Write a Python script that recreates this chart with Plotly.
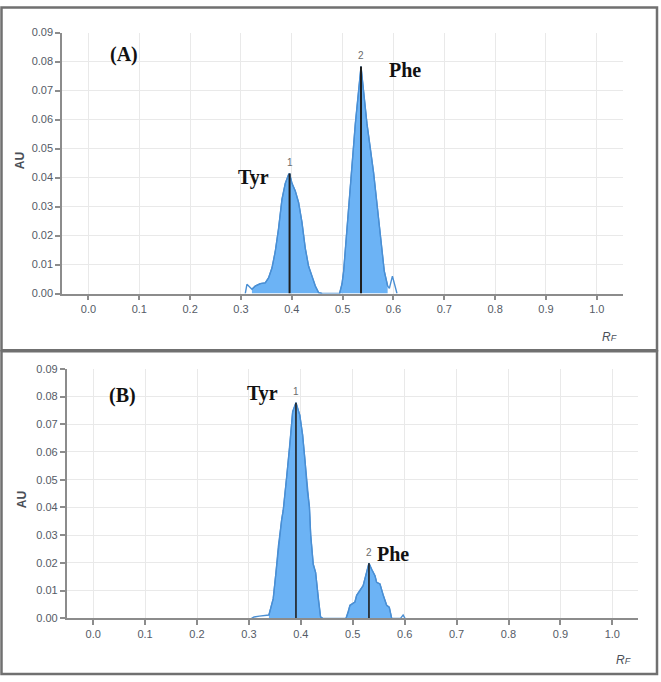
import plotly.graph_objects as go

# ---------------- data ----------------
# Panel A densitogram (Rf, AU)
A_RF = [0.3085, 0.3118, 0.3216, 0.3281, 0.338, 0.3478, 0.3543, 0.361, 0.3675, 0.374,
        0.3807, 0.3872, 0.3937, 0.3957, 0.4004, 0.4069, 0.4134, 0.42, 0.4266, 0.4331,
        0.4398, 0.4463, 0.4528, 0.46, 0.494, 0.4988, 0.502, 0.5073, 0.5112, 0.5165,
        0.525, 0.5362, 0.548, 0.561, 0.5677, 0.5756, 0.582, 0.5886, 0.592, 0.598, 0.607]
A_AU = [0.0, 0.0032, 0.0015, 0.0026, 0.0034, 0.0037, 0.0054, 0.0088, 0.0145, 0.0224,
        0.0325, 0.038, 0.041, 0.0414, 0.038, 0.0354, 0.0314, 0.0246, 0.0156, 0.0094,
        0.006, 0.0026, 0.0003, 0.0, 0.0, 0.0033, 0.0077, 0.019, 0.0304, 0.0416,
        0.0585, 0.0783, 0.0585, 0.0416, 0.0304, 0.019, 0.0077, 0.0026, 0.0018, 0.006, 0.0]
A_PEAK_START = [0.3216, 0.494]
A_PEAK_END = [0.46, 0.5886]
A_PEAK_RF = [0.3957, 0.5362]
A_PEAK_AU = [0.0414, 0.0783]

# Panel B densitogram (Rf, AU)
B_RF = [0.305, 0.31, 0.32, 0.33, 0.3385, 0.3468, 0.352, 0.3565, 0.363, 0.3661,
        0.3726, 0.379, 0.3842, 0.3906, 0.398, 0.4034, 0.408, 0.4124, 0.4165, 0.419,
        0.4239, 0.4285, 0.4335, 0.438, 0.442, 0.487, 0.4914, 0.4946, 0.5042, 0.5075,
        0.52, 0.5268, 0.5312, 0.5364, 0.5428, 0.546, 0.5524, 0.5588, 0.5653, 0.5703,
        0.575, 0.592, 0.597, 0.6006]
B_AU = [0.0, 0.0005, 0.0008, 0.001, 0.0012, 0.0071, 0.0165, 0.026, 0.0355, 0.039,
        0.0508, 0.0626, 0.0745, 0.0778, 0.0733, 0.0662, 0.0567, 0.0461, 0.0402, 0.030,
        0.0195, 0.0165, 0.0071, 0.0005, 0.0, 0.0, 0.0023, 0.0047, 0.0059, 0.0083,
        0.0118, 0.0165, 0.0199, 0.0177, 0.0154, 0.013, 0.0124, 0.0083, 0.0047, 0.0040,
        0.0, 0.0, 0.0012, 0.0]
B_PEAK_START = [0.3385, 0.487]
B_PEAK_END = [0.442, 0.575]
B_PEAK_RF = [0.3906, 0.5312]
B_PEAK_AU = [0.0778, 0.0199]

PEAK_NUMBERS = ["1", "2"]
X_TICKS = [0.0, 0.1, 0.2, 0.3, 0.4, 0.5, 0.6, 0.7, 0.8, 0.9, 1.0]
Y_TICKS = [0.00, 0.01, 0.02, 0.03, 0.04, 0.05, 0.06, 0.07, 0.08, 0.09]

# ---------------- styles ----------------
FILL = "rgba(108,179,245,1)"
LINE = "#4a8fd4"
PEAKLINE = "#1e1e1e"
TICKC = "#555b66"
AXC = "#8c8c8c"
GRID = "#e9e9e9"
SERIF = "Times New Roman, Liberation Serif, serif"
SANS = "Arial, Liberation Sans, sans-serif"

fig = go.Figure()


def add_panel(rf, au, pstart, pend, prf, pau, xa, ya, vlw):
    # filled peak regions
    for s, e in zip(pstart, pend):
        xs = [x for x in rf if s <= x <= e]
        ys = [y for x, y in zip(rf, au) if s <= x <= e]
        fig.add_trace(go.Scatter(x=xs, y=ys, mode="lines", fill="tozeroy",
                                 fillcolor=FILL, line=dict(color=LINE, width=1.2),
                                 xaxis=xa, yaxis=ya, hoverinfo="skip", showlegend=False))
    # whole trace line
    fig.add_trace(go.Scatter(x=rf, y=au, mode="lines", line=dict(color=LINE, width=1.4),
                             xaxis=xa, yaxis=ya, showlegend=False))
    # peak marker lines
    for px, py in zip(prf, pau):
        fig.add_trace(go.Scatter(x=[px, px], y=[0, py], mode="lines",
                                 line=dict(color=PEAKLINE, width=vlw),
                                 xaxis=xa, yaxis=ya, showlegend=False))


add_panel(A_RF, A_AU, A_PEAK_START, A_PEAK_END, A_PEAK_RF, A_PEAK_AU, "x", "y", 2)
add_panel(B_RF, B_AU, B_PEAK_START, B_PEAK_END, B_PEAK_RF, B_PEAK_AU, "x2", "y2", 1.6)

W, H = 661, 682

xcommon = dict(tickmode="array", tickvals=X_TICKS, ticktext=[f"{v:.1f}" for v in X_TICKS],
               showgrid=True, gridcolor=GRID, gridwidth=1, zeroline=False,
               showline=True, linecolor=AXC, linewidth=1.5, ticks="outside", ticklen=5,
               tickcolor=AXC, tickwidth=1.5, tickfont=dict(family=SANS, size=11, color=TICKC))
ycommon = dict(tickmode="array", tickvals=Y_TICKS, ticktext=[f"{v:.2f}" for v in Y_TICKS],
               range=[0, 0.09], showgrid=True, gridcolor=GRID, gridwidth=1, zeroline=False,
               showline=True, linecolor=AXC, linewidth=1.5, ticks="outside", ticklen=5,
               tickcolor=AXC, tickwidth=1.5, tickfont=dict(family=SANS, size=11, color=TICKC))

fig.update_layout(
    width=W, height=H, margin=dict(l=0, r=0, t=0, b=0),
    paper_bgcolor="white", plot_bgcolor="white", showlegend=False,
    xaxis=dict(xcommon, domain=[62 / W, 622.7 / W], range=[-0.052, 1.051], anchor="y"),
    yaxis=dict(ycommon, domain=[1 - 292.7 / H, 1 - 27 / H], anchor="x"),
    xaxis2=dict(xcommon, domain=[66.7 / W, 638.3 / W], range=[-0.051, 1.05], anchor="y2"),
    yaxis2=dict(ycommon, domain=[1 - 623.3 / H, 1 - 369.3 / H], anchor="x2"),
)

ann = []
# panel letters and compound names
ann.append(dict(x=0.0703, y=0.0823, xref="x", yref="y", text="<b>(A)</b>", showarrow=False,
                font=dict(family=SERIF, size=20, color="#111")))
ann.append(dict(x=0.324, y=0.0399, xref="x", yref="y", text="<b>Tyr</b>", showarrow=False,
                font=dict(family=SERIF, size=20, color="#111")))
ann.append(dict(x=0.6234, y=0.0772, xref="x", yref="y", text="<b>Phe</b>", showarrow=False,
                font=dict(family=SERIF, size=20, color="#111")))
ann.append(dict(x=0.0572, y=0.0802, xref="x2", yref="y2", text="<b>(B)</b>", showarrow=False,
                font=dict(family=SERIF, size=20, color="#111")))
ann.append(dict(x=0.327, y=0.081, xref="x2", yref="y2", text="<b>Tyr</b>", showarrow=False,
                font=dict(family=SERIF, size=20, color="#111")))
ann.append(dict(x=0.5775, y=0.0232, xref="x2", yref="y2", text="<b>Phe</b>", showarrow=False,
                font=dict(family=SERIF, size=20, color="#111")))
# peak numbers
for xa, ya, prf, pau in (("x", "y", A_PEAK_RF, A_PEAK_AU), ("x2", "y2", B_PEAK_RF, B_PEAK_AU)):
    for n, px, py in zip(PEAK_NUMBERS, prf, pau):
        ann.append(dict(x=px, y=py, xref=xa, yref=ya, text=n, showarrow=False, yshift=11,
                        font=dict(family=SANS, size=10, color="#6b6b6b")))
# axis titles
for (xp, yp) in ((20 / W, 1 - 158 / H), (22 / W, 1 - 503 / H)):
    ann.append(dict(x=xp, y=yp, xref="paper", yref="paper", text="<b>AU</b>", textangle=-90,
                    xanchor="center", yanchor="middle",
                    showarrow=False, font=dict(family=SANS, size=12, color="#4a4f57")))
for (xp, yp) in ((609 / W, 1 - 337 / H), (623 / W, 1 - 666 / H)):
    ann.append(dict(x=xp, y=yp, xref="paper", yref="paper",
                    text="<i>R<span style='font-size:9px'>F</span></i>",
                    xanchor="center", yanchor="middle",
                    showarrow=False, font=dict(family=SANS, size=12, color="#4a4f57")))
fig.update_layout(annotations=ann)

# panel borders
shapes = [
    dict(type="rect", xref="paper", yref="paper", x0=1.5 / W, x1=657 / W,
         y0=1 - 350.5 / H, y1=1 - 1.5 / H, line=dict(color="#707070", width=2.5)),
    dict(type="rect", xref="paper", yref="paper", x0=1.5 / W, x1=657 / W,
         y0=1 - 680 / H, y1=1 - 351.5 / H, line=dict(color="#707070", width=2.5)),
]
fig.update_layout(shapes=shapes)

fig.write_html("out.html", config={"displayModeBar": False},
               post_script="document.body.style.margin='0';document.body.style.padding='0';"
                           "document.documentElement.style.overflow='hidden';")
